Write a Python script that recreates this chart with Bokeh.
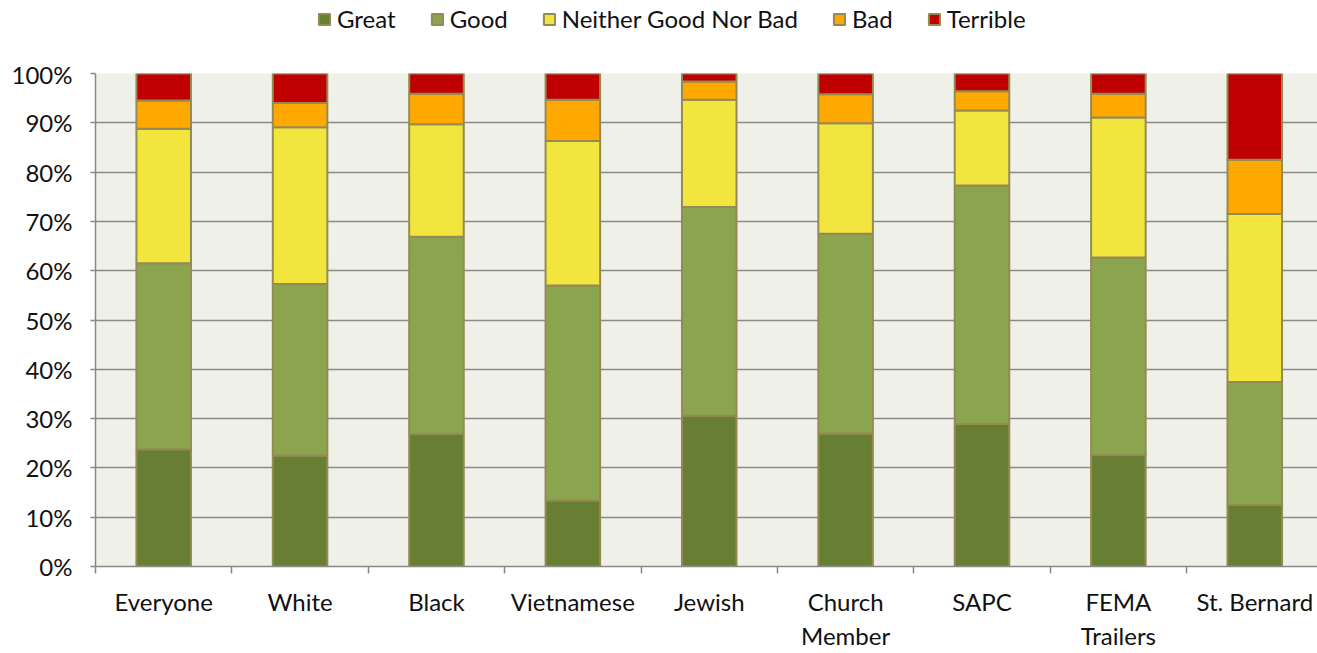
from bokeh.plotting import figure
from bokeh.layouts import column
from bokeh.models import ColumnDataSource, FixedTicker, Legend, LegendItem
from bokeh.embed import file_html
from bokeh.resources import INLINE

categories = ["Everyone", "White", "Black", "Vietnamese", "Jewish", "Church\nMember",
              "SAPC", "FEMA\nTrailers", "St. Bernard"]
series = ["Great", "Good", "Neither Good Nor Bad", "Bad", "Terrible"]
great = [23.8, 22.5, 26.9, 13.4, 30.6, 27.0, 28.9, 22.6, 12.5]
good = [37.7, 34.8, 40.0, 43.6, 42.3, 40.5, 48.4, 40.1, 24.9]
neither = [27.3, 31.8, 22.8, 29.3, 21.8, 22.4, 15.2, 28.4, 34.1]
bad = [5.7, 4.9, 6.2, 8.4, 3.7, 5.9, 3.9, 4.8, 11.0]
terrible = [5.5, 6.0, 4.1, 5.3, 1.6, 4.2, 3.6, 4.1, 17.5]
colors = ["#687F33", "#8BA54F", "#F2E63E", "#FFA800", "#C00000"]
y_ticks = list(range(0, 101, 10))

FONT = "Lato"
EDGE = "#948A54"
centers = [i + 0.5 for i in range(len(categories))]
bounds = list(range(len(categories) + 1))
stack_cols = ["Great", "Good", "Neither", "Bad", "Terrible"]

src = ColumnDataSource(dict(x=centers, Great=great, Good=good,
                            Neither=neither, Bad=bad, Terrible=terrible))

# ---- legend strip (its bars are hidden; only the legend shows) ----
lf = figure(width=1317, height=59, output_backend="svg", toolbar_location=None,
            x_axis_type=None, y_axis_type=None, x_range=(0, 8.96), y_range=(103, 104),
            min_border=0, min_border_left=0, min_border_right=0,
            min_border_top=0, min_border_bottom=0)
lf.outline_line_color = None
lf.xgrid.visible = False
lf.ygrid.visible = False
legend_r = lf.vbar_stack(stack_cols, x="x", width=0.4, color=colors,
                         line_color=EDGE, line_width=2, source=src)
for r in legend_r:
    r.visible = False
legend = Legend(items=[LegendItem(label=s, renderers=[r]) for s, r in zip(series, legend_r)],
                orientation="horizontal", location=(222, 26), click_policy="none",
                padding=0, margin=0, spacing=34, label_standoff=6,
                glyph_width=14, glyph_height=14,
                label_text_font=FONT, label_text_font_size="24px", label_text_color="#111111",
                background_fill_alpha=0, border_line_color=None)
lf.add_layout(legend, "center")

# ---- main chart ----
p = figure(width=1317, height=594, output_backend="svg", toolbar_location=None,
           x_range=(0, 8.96), y_range=(0, 100),
           min_border_left=95, min_border_right=0, min_border_top=14, min_border_bottom=87)
p.background_fill_color = "#EFF1E9"
p.border_fill_color = "white"
p.outline_line_color = None

p.vbar_stack(stack_cols, x="x", width=0.4,
             color=colors, line_color=EDGE, line_width=2, source=src)

p.xaxis.ticker = FixedTicker(ticks=centers, minor_ticks=bounds)
p.xaxis.major_label_overrides = {c: lab for c, lab in zip(centers, categories)}
p.xaxis.major_tick_line_color = None
p.xaxis.major_tick_out = 0
p.xaxis.major_tick_in = 0
p.xaxis.minor_tick_out = 7
p.xaxis.minor_tick_in = 0
p.xaxis.minor_tick_line_color = "#888888"
p.xaxis.minor_tick_line_width = 1.5
p.xaxis.major_label_standoff = 13

p.yaxis.ticker = FixedTicker(ticks=y_ticks)
p.yaxis.major_label_overrides = {v: f"{v}%" for v in y_ticks}
p.yaxis.minor_tick_line_color = None
p.yaxis.major_tick_out = 5
p.yaxis.major_tick_in = 0
p.yaxis.major_tick_line_color = "#888888"
p.yaxis.major_tick_line_width = 1.5
p.yaxis.major_label_standoff = 18

for ax in (p.xaxis, p.yaxis):
    ax.axis_line_color = "#888888"
    ax.axis_line_width = 1.5
    ax.major_label_text_font = FONT
    ax.major_label_text_font_size = "24px"
    ax.major_label_text_color = "#111111"

p.xgrid.grid_line_color = None
p.ygrid.ticker = FixedTicker(ticks=y_ticks)
p.ygrid.grid_line_color = "#8A8A8A"
p.ygrid.grid_line_width = 1.5

layout = column(lf, p, spacing=0)
open("out.html", "w").write(file_html(layout, INLINE))
